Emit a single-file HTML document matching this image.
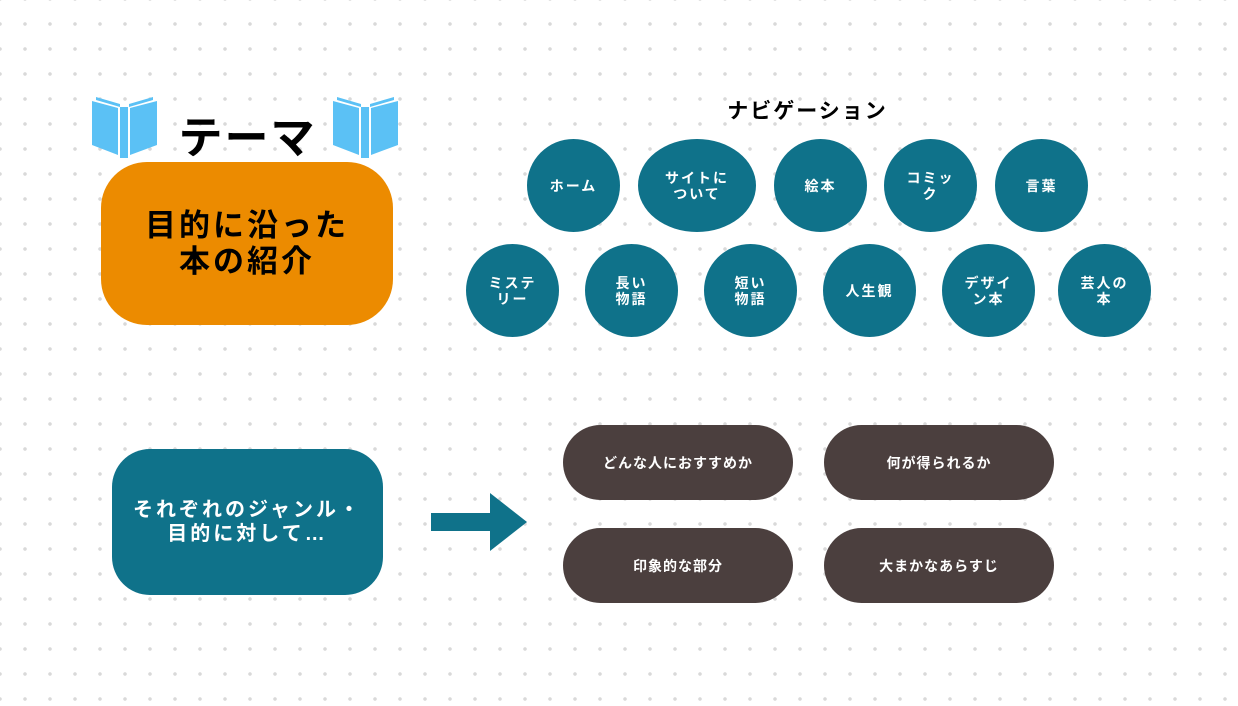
<!DOCTYPE html>
<html><head><meta charset="utf-8"><style>
body{margin:0;width:1238px;height:706px;overflow:hidden;background:#fff;
background-image:radial-gradient(circle,#d9d9d9 1.6px,transparent 2px);background-size:25px 25px;background-position:-12.5px -13.5px;
font-family:"Liberation Sans","Noto Sans CJK JP",sans-serif;position:relative}
.a{position:absolute;display:flex;align-items:center;justify-content:center;text-align:center;box-sizing:border-box}
.c{background:#0f728a;color:#fff;border-radius:50%;width:93px;height:93px;font-size:14px;font-weight:bold;letter-spacing:2px;line-height:16px}
.p{background:#4b3f3e;color:#fff;border-radius:38px;width:230px;height:75px;font-size:14px;font-weight:bold;letter-spacing:1px}
</style></head><body>
<svg style="position:absolute;left:0;top:0" width="1238" height="706">
<g id="b" fill="#5bc1f5">
<path d="M92 101 L118 108 L118 155 L92 145 Z"/><path d="M130 108 L157 101 L157 145 L130 155 Z"/>
<rect x="120" y="107" width="8" height="51"/>
<path d="M96 97 L120 104 L120 107 L96 100Z M153 97 L129 104 L129 107 L153 100Z"/>
</g>
<use href="#b" x="241"/>
<rect x="431" y="513" width="60" height="18" fill="#0f728a"/>
<path d="M490 493 L527 522 L490 551 Z" fill="#0f728a"/>
</svg>
<div class="a" style="left:170px;top:104px;width:155px;height:60px;font-size:44px;font-weight:bold;letter-spacing:2px">テーマ</div>
<div class="a" style="left:101px;top:162px;width:292px;height:163px;background:#ec8b00;border-radius:46px;font-size:31px;font-weight:bold;line-height:36px;letter-spacing:3px">目的に沿った<br>本の紹介</div>
<div class="a" style="left:700px;top:93px;width:215px;height:34px;font-size:21px;font-weight:bold;letter-spacing:2px">ナビゲーション</div>
<div class="a c" style="left:527px;top:139px">ホーム</div>
<div class="a c" style="left:638px;top:139px;width:118px">サイトに<br>ついて</div>
<div class="a c" style="left:774px;top:139px">絵本</div>
<div class="a c" style="left:884px;top:139px">コミッ<br>ク</div>
<div class="a c" style="left:995px;top:139px">言葉</div>
<div class="a c" style="left:466px;top:244px">ミステ<br>リー</div>
<div class="a c" style="left:585px;top:244px">長い<br>物語</div>
<div class="a c" style="left:704px;top:244px">短い<br>物語</div>
<div class="a c" style="left:823px;top:244px">人生観</div>
<div class="a c" style="left:942px;top:244px">デザイ<br>ン本</div>
<div class="a c" style="left:1058px;top:244px">芸人の<br>本</div>
<div class="a" style="left:112px;top:449px;width:271px;height:146px;background:#0f728a;border-radius:38px;color:#fff;font-size:20px;font-weight:bold;line-height:24px;letter-spacing:3px">それぞれのジャンル・<br>目的に対して…</div>
<div class="a p" style="left:563px;top:425px">どんな人におすすめか</div>
<div class="a p" style="left:824px;top:425px">何が得られるか</div>
<div class="a p" style="left:563px;top:528px">印象的な部分</div>
<div class="a p" style="left:824px;top:528px">大まかなあらすじ</div>
</body></html>
